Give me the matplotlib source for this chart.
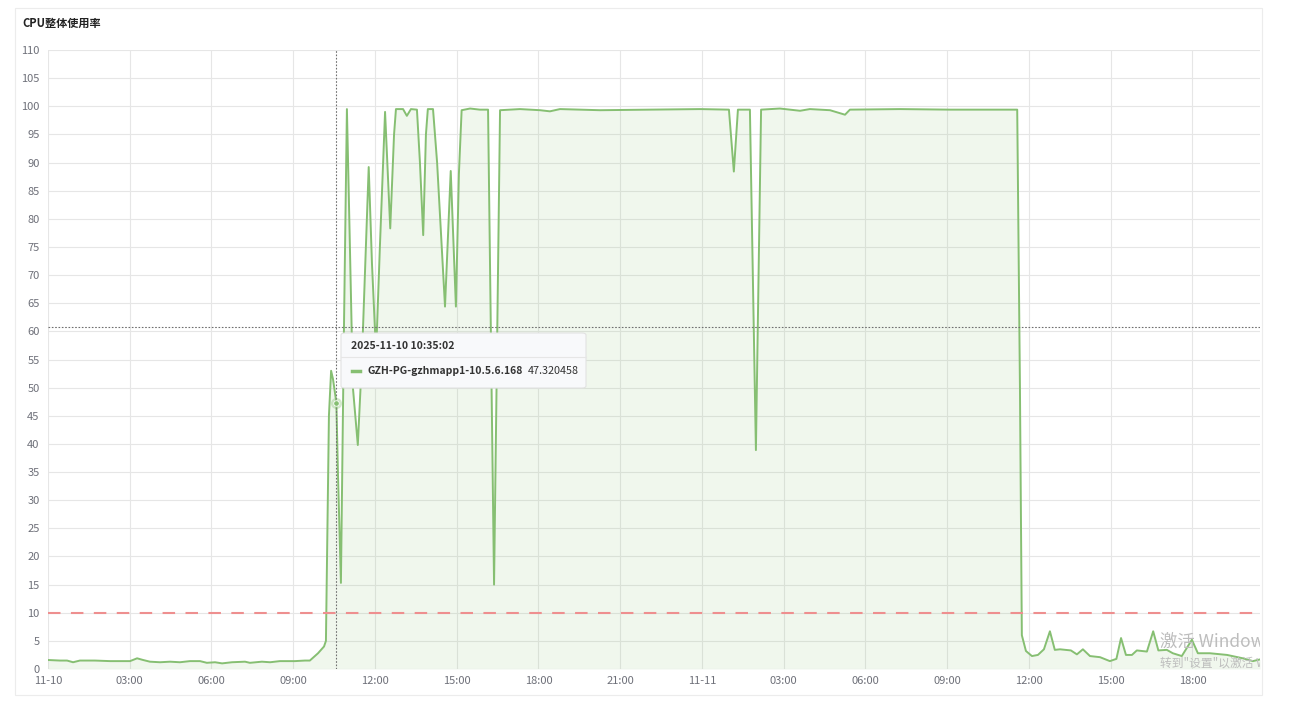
import matplotlib
matplotlib.use("Agg")
import matplotlib.pyplot as plt
from matplotlib.patches import Rectangle, FancyBboxPatch
from matplotlib.lines import Line2D

plt.rcParams['font.family'] = ['Noto Sans CJK SC', 'DejaVu Sans']

# hours since 2025-11-10 00:00 and CPU usage (%)
hours = [0.0, 0.44, 0.70, 0.92, 1.17, 1.72, 2.28, 3.01, 3.27, 3.49, 3.74, 4.11, 4.48,
         4.84, 5.21, 5.58, 5.83, 6.13, 6.39, 6.75, 7.23, 7.41, 7.85, 8.15, 8.51, 9.06,
         9.43, 9.61, 9.91, 10.13, 10.20, 10.31, 10.39, 10.46, 10.583, 10.64, 10.75,
         10.86, 10.97, 11.08, 11.19, 11.37, 11.52, 11.77, 11.89, 12.04, 12.18, 12.37,
         12.56, 12.70, 12.77, 13.03, 13.17, 13.32, 13.54, 13.65, 13.77, 13.87, 13.94,
         14.13, 14.28, 14.57, 14.78, 14.97, 15.08, 15.18, 15.49, 15.85, 16.15, 16.37,
         16.59, 17.32, 18.06, 18.42, 18.79, 20.26, 22.09, 23.93, 24.99, 25.17, 25.32,
         25.76, 25.98, 26.17, 26.86, 27.60, 27.96, 28.70, 29.25, 29.43, 31.27, 33.10,
         34.94, 35.57, 35.67, 35.74, 35.89, 36.11, 36.33, 36.55, 36.77, 36.95, 37.14,
         37.54, 37.76, 37.98, 38.24, 38.61, 38.97, 39.21, 39.38, 39.56, 39.78, 39.96,
         40.33, 40.56, 40.75, 41.06, 41.28, 41.61, 41.98, 42.20, 42.64, 43.27, 43.85,
         44.22, 44.48]
cpu = [1.6, 1.5, 1.5, 1.2, 1.5, 1.5, 1.4, 1.4, 1.9, 1.6, 1.3, 1.2, 1.3,
       1.2, 1.4, 1.4, 1.1, 1.2, 1.0, 1.2, 1.3, 1.1, 1.3, 1.2, 1.4, 1.4,
       1.5, 1.5, 2.8, 4.0, 5.0, 45.0, 53.0, 51.5, 47.32, 35.0, 15.3,
       60.0, 99.5, 75.0, 50.0, 39.8, 55.0, 89.2, 72.0, 56.0, 75.0, 99.0,
       78.3, 95.0, 99.5, 99.5, 98.3, 99.5, 99.4, 90.0, 77.1, 95.0, 99.5,
       99.5, 90.0, 64.4, 88.5, 64.4, 88.0, 99.3, 99.6, 99.4, 99.4, 15.0,
       99.3, 99.5, 99.3, 99.1, 99.5, 99.3, 99.4, 99.5, 99.4, 88.4, 99.4,
       99.4, 38.9, 99.4, 99.6, 99.2, 99.5, 99.3, 98.5, 99.4, 99.5, 99.4,
       99.4, 99.4, 50.0, 6.0, 3.2, 2.3, 2.5, 3.5, 6.7, 3.4, 3.5,
       3.3, 2.6, 3.5, 2.3, 2.1, 1.4, 1.8, 5.5, 2.5, 2.5, 3.3,
       3.1, 6.7, 3.3, 3.4, 2.8, 2.3, 5.2, 2.8, 2.8, 2.5, 1.9,
       1.4, 1.7]

tick_hours = [0, 3, 6, 9, 12, 15, 18, 21, 24, 27, 30, 33, 36, 39, 42]
tick_labels = ['11-10', '03:00', '06:00', '09:00', '12:00', '15:00', '18:00', '21:00',
               '11-11', '03:00', '06:00', '09:00', '12:00', '15:00', '18:00']
threshold = 10
hover_hour = 10.584
hover_value = 47.320458
hover_cursor_y = 60.7
series_name = 'GZH-PG-gzhmapp1-10.5.6.168'

green = '#86bf72'
fig = plt.figure(figsize=(13.08, 7.14), dpi=100)
ax = fig.add_axes([48 / 1308, 1 - 669 / 714, 1212 / 1308, 619 / 714])

# card border
fig.add_artist(Rectangle((15 / 1308, 1 - 695 / 714), 1247 / 1308, 687 / 714,
                         transform=fig.transFigure, fill=False, edgecolor='#ececec', lw=0.8))
fig.text(22 / 1308, 1 - 23 / 714, 'CPU整体使用率', fontsize=8, fontweight='bold',
         color='#222222', va='center')

ax.fill_between(hours, cpu, color=green, alpha=0.12, lw=0)
ax.plot(hours, cpu, color=green, lw=1.4)
ax.axhline(threshold, color='#ee8f8f', lw=1.5, ls=(0, (6, 5)))

ax.set_xlim(0, hours[-1])
ax.set_ylim(0, 110)
ax.set_yticks(range(0, 111, 5))
ax.set_xticks(tick_hours)
ax.set_xticklabels(tick_labels)
ax.tick_params(length=0, labelsize=8, colors='#6e7079', pad=5)
ax.tick_params(axis='y', pad=6)
ax.grid(True, color='#e6e6e6', lw=0.8)
ax.set_axisbelow(True)
for s in ax.spines.values():
    s.set_visible(False)

# hover crosshair
ax.axvline(hover_hour, color='#707070', lw=0.8, ls=(0, (1.5, 1.5)))
ax.axhline(hover_cursor_y, color='#707070', lw=0.8, ls=(0, (1.5, 1.5)))
ax.plot(hover_hour, hover_value, 'o', ms=8, color=green, alpha=0.35, mec='none')
ax.plot(hover_hour, hover_value, 'o', ms=4, color=green, mec='white', mew=0.6)

# watermark
ax.text(40.8, 3.9, '激活 Windows', fontsize=12.5, color='#bdbdbd', clip_on=True)
ax.text(40.8, 0.4, '转到"设置"以激活 Windows', fontsize=8.5, color='#bdbdbd', clip_on=True)

# tooltip
fig.add_artist(FancyBboxPatch((341 / 1308, 1 - 388 / 714), 245 / 1308, 55 / 714,
                              boxstyle='round,pad=0,rounding_size=0.003',
                              transform=fig.transFigure, facecolor='#f8f9fb',
                              edgecolor='#e2e2e2', lw=0.8, zorder=10))
fig.add_artist(Line2D([341 / 1308, 586 / 1308], [1 - 357 / 714, 1 - 357 / 714],
                      transform=fig.transFigure, color='#e6e6e6', lw=0.8, zorder=11))
fig.text(351 / 1308, 1 - 346 / 714, '2025-11-10 10:35:02', fontsize=7.5,
         fontweight='bold', color='#333333', va='center', zorder=12)
fig.add_artist(Line2D([352 / 1308, 360 / 1308], [1 - 371 / 714, 1 - 371 / 714],
                      transform=fig.transFigure, color=green, lw=2.5, zorder=12))
fig.text(367 / 1308, 1 - 371 / 714, series_name, fontsize=7.5, fontweight='bold',
         color='#333333', va='center', zorder=12)
fig.text(528 / 1308, 1 - 371 / 714, f'{hover_value:.6f}', fontsize=7.8,
         color='#333333', va='center', zorder=12)

fig.savefig('out.png', dpi=100)
